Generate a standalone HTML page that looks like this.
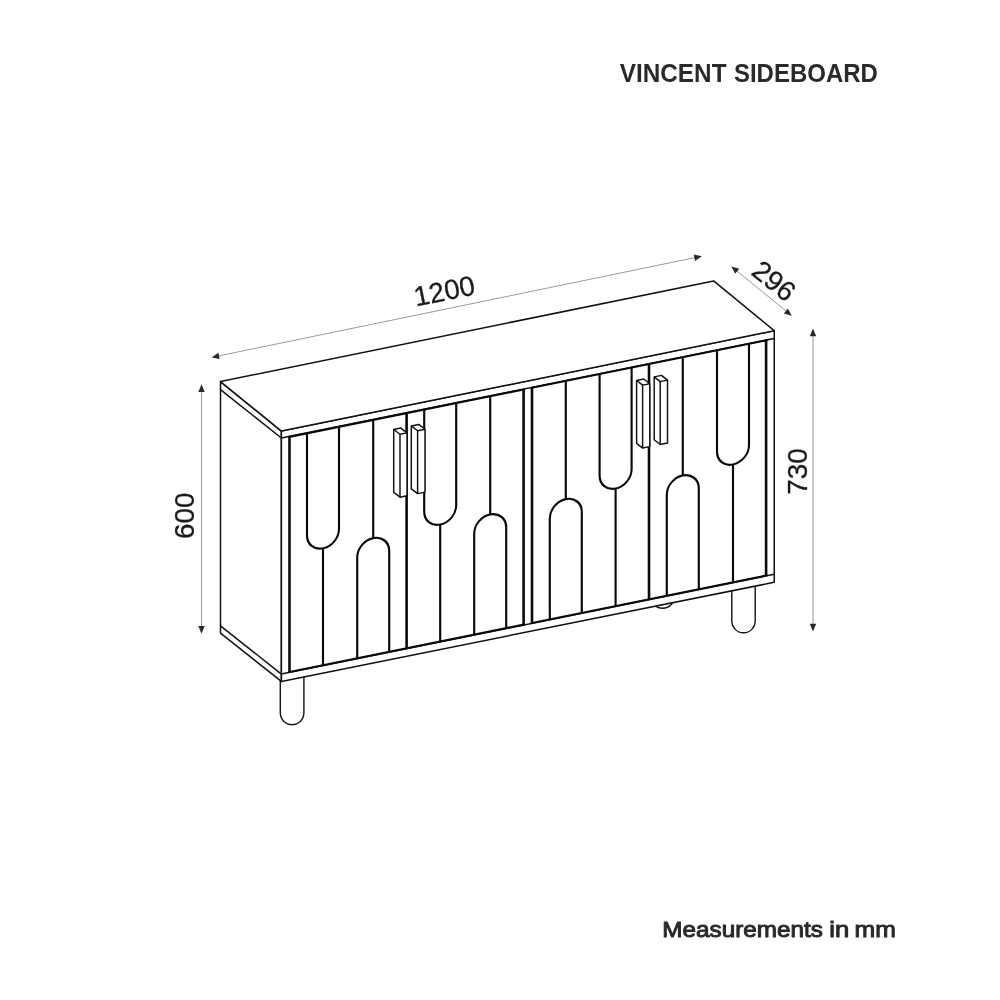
<!DOCTYPE html>
<html lang="en">
<head>
<meta charset="utf-8">
<title>Vincent Sideboard</title>
<style>
html,body{margin:0;padding:0;background:#fff;}
body{width:1000px;height:1000px;overflow:hidden;}
svg{display:block;filter:grayscale(1);}
.o{stroke:#111;stroke-width:1.5;fill:none;stroke-linejoin:round;stroke-linecap:round;}
.l{stroke:#111;stroke-width:1.4;fill:#fff;}
.f{fill:#fff;}
.t{stroke:#0a0a0a;stroke-width:2.6;fill:none;stroke-linecap:butt;}
.te{stroke:#0a0a0a;stroke-width:2.1;fill:none;stroke-linecap:butt;}
.p{stroke:#0a0a0a;stroke-width:2.15;fill:none;stroke-linecap:butt;}
.h{stroke:#111;stroke-width:1.45;fill:none;stroke-linejoin:round;}
.h.f{fill:#fff;}
.d{stroke:#555;stroke-width:0.6;fill:none;}
.a{fill:#2a2a2a;stroke:none;}
.n{font-family:"Liberation Sans",sans-serif;font-size:27.8px;fill:#1a1a1a;stroke:#1a1a1a;stroke-width:0.3px;}
.title{font-family:"Liberation Sans",sans-serif;font-weight:bold;font-size:25.4px;fill:#2b2a29;}
.foot{font-family:"Liberation Sans",sans-serif;font-weight:normal;font-size:22.8px;fill:#2b2a29;stroke:#2b2a29;stroke-width:1px;stroke-linejoin:round;}
</style>
</head>
<body>
<svg width="1000" height="1000" viewBox="0 0 1000 1000">
<rect width="1000" height="1000" fill="#fff"/>
<path class="l" d="M650.6,590 V596.2 A12,12 0 0 0 674.6,596.2 V590"/>
<path class="l" d="M280.30,676.00 V712.80 A11.80,11.80 0 0 0 303.90,712.80 V670.00"/>
<path class="l" d="M731.80,584.00 V621.10 A11.70,11.70 0 0 0 755.20,621.10 V578.00"/>
<polygon class="o f" points="220.50,381.60 281.40,431.10 281.40,681.40 220.50,633.20"/>
<polygon class="o f" points="281.40,431.10 774.25,330.70 774.25,582.30 281.40,681.40"/>
<polygon class="o f" points="220.50,381.60 713.60,280.90 774.25,330.70 281.40,431.10"/>
<line class="o" x1="281.40" y1="438.00" x2="774.25" y2="338.40"/>
<line class="o" x1="220.50" y1="389.70" x2="281.40" y2="438.00"/>
<line class="o" x1="281.40" y1="674.10" x2="774.25" y2="574.30"/>
<line class="o" x1="220.50" y1="625.90" x2="281.40" y2="674.10"/>
<g transform="matrix(1,-0.2025,0,1,281.4,0)">
<line class="te" x1="6.80" y1="438.50" x2="243.50" y2="438.50"/>
<line class="te" x1="249.30" y1="438.50" x2="486.00" y2="438.50"/>
<line class="te" x1="6.80" y1="673.70" x2="243.50" y2="673.70"/>
<line class="te" x1="249.30" y1="673.70" x2="486.00" y2="673.70"/>
<line class="t" x1="8.10" y1="438.50" x2="8.10" y2="673.70"/>
<line class="t" x1="242.20" y1="438.50" x2="242.20" y2="673.70"/>
<line class="t" x1="250.60" y1="438.50" x2="250.60" y2="673.70"/>
<line class="t" x1="484.70" y1="438.50" x2="484.70" y2="673.70"/>
<path class="p" d="M25.60,438.50 V540.70 A16.00,16.00 0 0 0 57.60,540.70 V438.50"/>
<line class="p" x1="41.60" y1="556.70" x2="41.60" y2="673.70"/>
<path class="p" d="M75.80,673.70 V572.70 A16.00,16.00 0 0 1 107.80,572.70 V673.70"/>
<line class="p" x1="91.80" y1="438.50" x2="91.80" y2="556.70"/>
<path class="p" d="M142.80,438.50 V540.70 A16.00,16.00 0 0 0 174.80,540.70 V438.50"/>
<line class="p" x1="158.80" y1="556.70" x2="158.80" y2="673.70"/>
<path class="p" d="M192.80,673.70 V572.70 A16.00,16.00 0 0 1 224.80,572.70 V673.70"/>
<line class="p" x1="208.80" y1="438.50" x2="208.80" y2="556.70"/>
<path class="p" d="M268.40,673.70 V572.70 A16.00,16.00 0 0 1 300.40,572.70 V673.70"/>
<line class="p" x1="284.40" y1="438.50" x2="284.40" y2="556.70"/>
<path class="p" d="M318.20,438.50 V540.20 A16.00,16.00 0 0 0 350.20,540.20 V438.50"/>
<line class="p" x1="334.20" y1="556.20" x2="334.20" y2="673.70"/>
<path class="p" d="M385.40,673.70 V572.70 A16.00,16.00 0 0 1 417.40,572.70 V673.70"/>
<line class="p" x1="401.40" y1="438.50" x2="401.40" y2="556.70"/>
<path class="p" d="M435.60,438.50 V539.90 A16.00,16.00 0 0 0 467.60,539.90 V438.50"/>
<line class="p" x1="451.60" y1="555.90" x2="451.60" y2="673.70"/>
<line class="t" x1="125.20" y1="438.50" x2="125.20" y2="673.70"/>
<line class="t" x1="367.60" y1="438.50" x2="367.60" y2="673.70"/>
</g>
<polygon class="h f" points="393.70,429.48 400.70,428.07 407.00,432.87 407.00,495.77 400.00,497.18 393.70,492.38"/>
<polyline class="h" points="393.70,429.48 400.00,434.28 407.00,432.87"/>
<line class="h" x1="400.00" y1="434.28" x2="400.00" y2="497.18"/>
<polygon class="h f" points="411.30,425.92 418.70,424.42 425.00,429.22 425.00,492.12 417.60,493.62 411.30,488.82"/>
<polyline class="h" points="411.30,425.92 417.60,430.72 425.00,429.22"/>
<line class="h" x1="417.60" y1="430.72" x2="417.60" y2="493.62"/>
<polygon class="h f" points="636.60,380.46 643.80,379.00 649.80,383.70 649.80,446.60 642.60,448.06 636.60,443.36"/>
<polyline class="h" points="636.60,380.46 642.60,385.16 649.80,383.70"/>
<line class="h" x1="642.60" y1="385.16" x2="642.60" y2="448.06"/>
<polygon class="h f" points="654.20,376.89 661.50,375.41 667.50,380.11 667.50,443.01 660.20,444.49 654.20,439.79"/>
<polyline class="h" points="654.20,376.89 660.20,381.59 667.50,380.11"/>
<line class="h" x1="660.20" y1="381.59" x2="660.20" y2="444.49"/>
<line class="d" x1="214.44" y1="356.79" x2="698.96" y2="256.81"/>
<polygon class="a" points="211.50,357.40 219.69,358.98 218.39,352.71"/>
<polygon class="a" points="701.90,256.20 695.01,260.89 693.71,254.62"/>
<line class="d" x1="733.62" y1="268.30" x2="789.48" y2="313.90"/>
<polygon class="a" points="731.30,266.40 735.24,273.75 739.29,268.79"/>
<polygon class="a" points="791.80,315.80 783.81,313.41 787.86,308.45"/>
<line class="d" x1="813.00" y1="331.60" x2="813.00" y2="628.50"/>
<polygon class="a" points="813.00,328.60 809.80,336.30 816.20,336.30"/>
<polygon class="a" points="813.00,631.50 809.80,623.80 816.20,623.80"/>
<line class="d" x1="201.50" y1="387.30" x2="201.50" y2="630.70"/>
<polygon class="a" points="201.50,384.30 198.30,392.00 204.70,392.00"/>
<polygon class="a" points="201.50,633.70 198.30,626.00 204.70,626.00"/>
<text class="n" transform="translate(446.20,300.30) rotate(-11.50)" text-anchor="middle">1200</text>
<text class="n" transform="translate(768.10,288.30) rotate(38.90)" text-anchor="middle">296</text>
<text class="n" transform="translate(806.60,471.50) rotate(-90.00)" text-anchor="middle">730</text>
<text class="n" transform="translate(193.70,515.80) rotate(-90.00)" text-anchor="middle">600</text>
<text class="title" y="81.90"><tspan x="619.82" textLength="106.67" lengthAdjust="spacingAndGlyphs">VINCENT</tspan> <tspan x="733.98" textLength="143.85" lengthAdjust="spacingAndGlyphs">SIDEBOARD</tspan></text>
<text class="foot" y="937.30"><tspan x="662.32" textLength="160.53" lengthAdjust="spacingAndGlyphs">Measurements</tspan> <tspan x="829.27" textLength="19.92" lengthAdjust="spacingAndGlyphs">in</tspan> <tspan x="854.64" textLength="41.32" lengthAdjust="spacingAndGlyphs">mm</tspan></text>
</svg>
</body>
</html>
